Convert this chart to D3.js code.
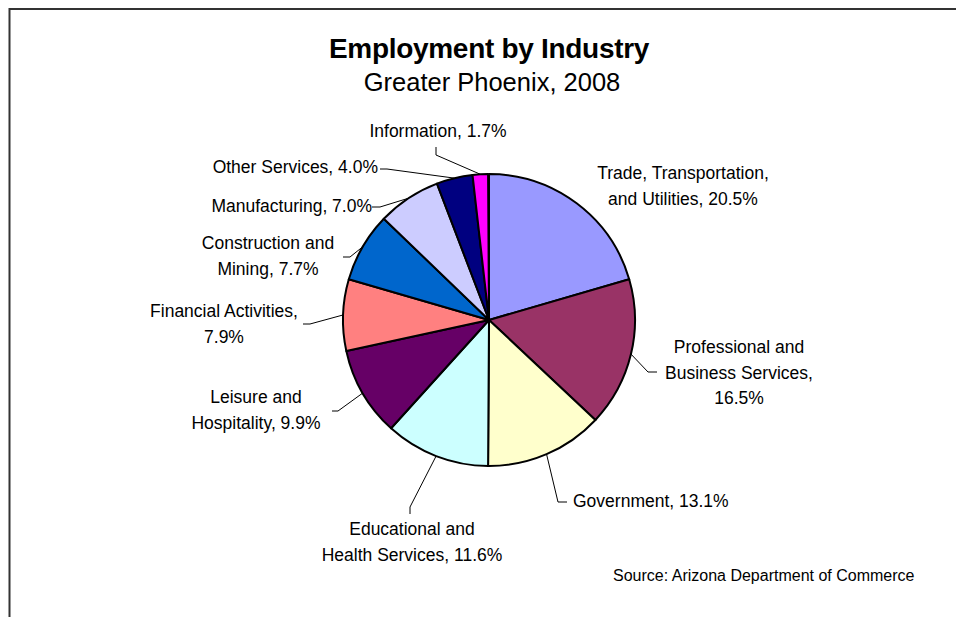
<!DOCTYPE html>
<html>
<head>
<meta charset="utf-8">
<script src="https://cdn.jsdelivr.net/npm/d3@7"></script>
<style>
  html, body { margin: 0; padding: 0; background: #fff; }
  svg { display: block; }
  text { font-family: "Liberation Sans", Arial, sans-serif; fill: #000; }
</style>
</head>
<body>
<svg id="chart" width="956" height="617"></svg>
<script>
// ---- data ----
const categories = [
  "Trade, Transportation, and Utilities",
  "Professional and Business Services",
  "Government",
  "Educational and Health Services",
  "Leisure and Hospitality",
  "Financial Activities",
  "Construction and Mining",
  "Manufacturing",
  "Other Services",
  "Information"
];
const values = [20.5, 16.5, 13.1, 11.6, 9.9, 7.9, 7.7, 7.0, 4.0, 1.7];
const colors = ["#9999FF", "#993366", "#FFFFCC", "#CCFFFF", "#660066",
                "#FF8080", "#0066CC", "#CCCCFF", "#000080", "#FF00FF"];
const titleText = "Employment by Industry";
const subtitleText = "Greater Phoenix, 2008";
const sourceText = "Source: Arizona Department of Commerce";

// ---- layout (positions only) ----
const W = 956, H = 617;
const cx = 489, cy = 320, R = 146;
// words per line when wrapping each label
const wordsPerLine = [[2, 3], [2, 2, 1], [3], [2, 3], [2, 2], [2, 1], [2, 2], [2], [3], [2]];
const labelLayout = [
  { x: 683, y: 179, anchor: "middle", leader: null },
  { x: 739, y: 353, anchor: "middle", leader: [[648, 372], [657, 372]] },
  { x: 573, y: 507, anchor: "start",  leader: [[558, 502], [567, 502]] },
  { x: 412, y: 535, anchor: "middle", leader: [[410, 507], [410, 514]] },
  { x: 256, y: 403, anchor: "middle", leader: [[338, 411], [332, 411]] },
  { x: 224, y: 317, anchor: "middle", leader: [[310, 324], [303, 324]] },
  { x: 268, y: 249, anchor: "middle", leader: [[350, 257], [343, 257]] },
  { x: 372, y: 212, anchor: "end",    leader: [[380, 207], [372, 207]] },
  { x: 378, y: 173, anchor: "end",    leader: [[387, 169], [380, 169]] },
  { x: 438, y: 137, anchor: "middle", leader: [[436, 155], [436, 147]] }
];
const lineHeight = 25.5;

const svg = d3.select("#chart");

// frame
svg.append("line").attr("x1", 9).attr("y1", 9).attr("x2", W).attr("y2", 9)
  .attr("stroke", "#333").attr("stroke-width", 2);
svg.append("line").attr("x1", 9.5).attr("y1", 8).attr("x2", 9.5).attr("y2", H)
  .attr("stroke", "#333").attr("stroke-width", 2);

// titles
svg.append("text").attr("x", 489).attr("y", 58).attr("text-anchor", "middle")
  .attr("font-size", 28).attr("font-weight", "bold").attr("letter-spacing", -0.3).text(titleText);
svg.append("text").attr("x", 492).attr("y", 91).attr("text-anchor", "middle")
  .attr("font-size", 25.5).text(subtitleText);

// pie
const data = categories.map((c, i) => ({ category: c, value: values[i], i }));
const pie = d3.pie().value(d => d.value).sort(null).startAngle(0).endAngle(2 * Math.PI * d3.sum(values) / 100);
const arcs = pie(data);
const arc = d3.arc().innerRadius(0).outerRadius(R);
const edge = d3.arc().innerRadius(R).outerRadius(R);
const color = d3.scaleOrdinal().domain(categories).range(colors);

const g = svg.append("g").attr("transform", `translate(${cx},${cy})`);
g.selectAll("path.slice").data(arcs).enter().append("path")
  .attr("class", "slice")
  .attr("d", arc)
  .attr("fill", d => color(d.data.category))
  .attr("stroke", "#000").attr("stroke-width", 2).attr("stroke-linejoin", "round");

// leaders
arcs.forEach((a, i) => {
  const L = labelLayout[i];
  if (!L.leader) return;
  const [sx, sy] = edge.centroid(a);
  const pts = [[cx + sx, cy + sy], ...L.leader];
  svg.append("path")
    .attr("d", d3.line()(pts))
    .attr("fill", "none").attr("stroke", "#000").attr("stroke-width", 1);
});

// labels
arcs.forEach((a, i) => {
  const L = labelLayout[i];
  const full = `${a.data.category}, ${a.data.value.toFixed(1)}%`;
  const words = full.split(" ");
  const lines = [];
  let k = 0;
  wordsPerLine[i].forEach(n => { lines.push(words.slice(k, k + n).join(" ")); k += n; });
  if (k < words.length) lines[lines.length - 1] += " " + words.slice(k).join(" ");
  const t = svg.append("text").attr("text-anchor", L.anchor).attr("font-size", 17.5);
  lines.forEach((ln, j) => {
    t.append("tspan").attr("x", L.x).attr("y", L.y + j * lineHeight).text(ln);
  });
});

// source
svg.append("text").attr("x", 613).attr("y", 581).attr("font-size", 16).text(sourceText);
</script>
</body>
</html>
